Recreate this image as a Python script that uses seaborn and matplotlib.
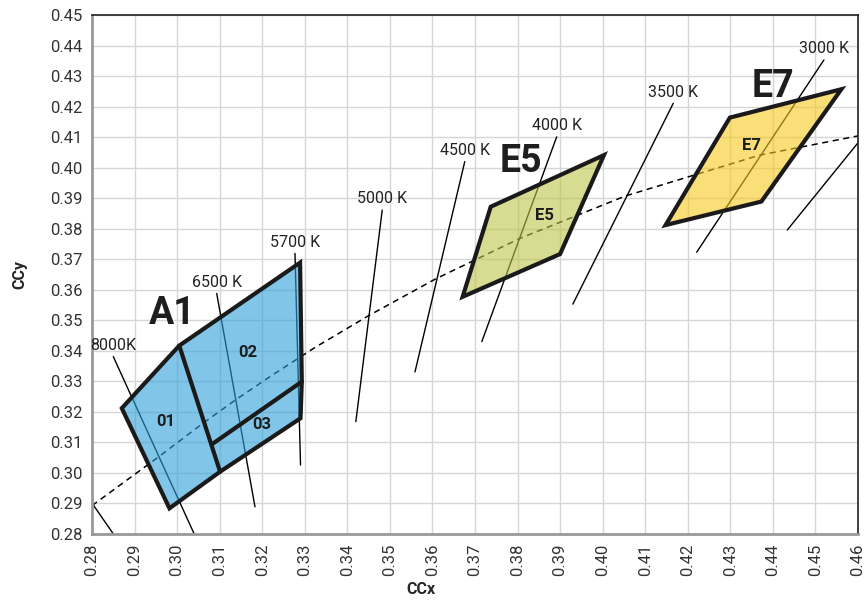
import matplotlib
matplotlib.use("Agg")
import matplotlib.pyplot as plt
import seaborn as sns
import pandas as pd

# Planckian locus (dashed)
locus_x = [0.2800, 0.2952, 0.3064, 0.3135, 0.3221, 0.3324, 0.3451, 0.3608, 0.3805, 0.4053, 0.4369, 0.4600]
locus_y = [0.2893, 0.3048, 0.3166, 0.3237, 0.3318, 0.3411, 0.3516, 0.3636, 0.3768, 0.3907, 0.4041, 0.4104]

# isotherm segments: label, (x0, y0), (x1, y1)
iso_labels = ["8000K", "", "6500 K", "5700 K", "5000 K", "4500 K", "4000 K", "3500 K", "3000 K", ""]
iso_x0 = [0.2850, 0.2803, 0.3093, 0.3277, 0.3482, 0.3676, 0.3892, 0.4166, 0.4520, 0.4640]
iso_y0 = [0.3381, 0.2895, 0.3588, 0.3719, 0.3861, 0.4020, 0.4101, 0.4211, 0.4353, 0.4150]
iso_x1 = [0.3050, 0.2870, 0.3183, 0.3290, 0.3420, 0.3559, 0.3716, 0.3930, 0.4221, 0.4434]
iso_y1 = [0.2770, 0.2760, 0.2889, 0.3026, 0.3168, 0.3331, 0.3430, 0.3553, 0.3723, 0.3796]

# bins
a1_x = [0.2870, 0.3005, 0.3289, 0.3293, 0.3290, 0.3101, 0.2982]
a1_y = [0.3212, 0.3417, 0.3689, 0.3299, 0.3179, 0.3004, 0.2884]
a1_split1_x = [0.3005, 0.3101]
a1_split1_y = [0.3417, 0.3004]
a1_split2_x = [0.3085, 0.3293]
a1_split2_y = [0.3097, 0.3299]
e5_x = [0.3737, 0.4003, 0.3900, 0.3671]
e5_y = [0.3872, 0.4041, 0.3717, 0.3577]
e7_x = [0.4299, 0.4561, 0.4373, 0.4148]
e7_y = [0.4164, 0.4257, 0.3889, 0.3812]

sns.set_style("whitegrid", {"grid.color": "#d6d6d6"})
plt.rcParams["font.family"] = ["Roboto", "DejaVu Sans"]

fig, ax = plt.subplots(figsize=(8.64, 6.02), dpi=100)
fig.subplots_adjust(left=0.1065, right=0.993, top=0.975, bottom=0.113)

# isotherms
for lab, x0, y0, x1, y1 in zip(iso_labels, iso_x0, iso_y0, iso_x1, iso_y1):
    seg = pd.DataFrame({"x": [x0, x1], "y": [y0, y1]})
    sns.lineplot(data=seg, x="x", y="y", ax=ax, color="black", lw=1.0, sort=False, zorder=2)
    if lab:
        ax.text(x0, y0 + 0.0012, lab, ha="center", va="bottom", fontsize=11.5, color="#222222")

# Planckian locus
locus = pd.DataFrame({"x": locus_x, "y": locus_y})
sns.lineplot(data=locus, x="x", y="y", ax=ax, color="black", lw=1.1, sort=False,
             linestyle=(0, (4, 3)), zorder=2)

# bin polygons
ax.fill(a1_x, a1_y, facecolor="#2E9FD9", alpha=0.6, zorder=3)
ax.fill(a1_x, a1_y, facecolor="none", edgecolor="#1a1a1a", lw=3, zorder=4, joinstyle="miter")
ax.plot(a1_split1_x, a1_split1_y, color="#1a1a1a", lw=3, zorder=4)
ax.plot(a1_split2_x, a1_split2_y, color="#1a1a1a", lw=3, zorder=4)
ax.fill(e5_x, e5_y, facecolor="#BEC54B", alpha=0.6, zorder=3)
ax.fill(e5_x, e5_y, facecolor="none", edgecolor="#1a1a1a", lw=3, zorder=4, joinstyle="miter")
ax.fill(e7_x, e7_y, facecolor="#F7C81E", alpha=0.6, zorder=3)
ax.fill(e7_x, e7_y, facecolor="none", edgecolor="#1a1a1a", lw=3, zorder=4, joinstyle="miter")

# bin labels
big = dict(fontsize=27, fontweight="bold", ha="center", va="center", color="#1e1e1e", zorder=5)
small = dict(fontsize=12, fontweight="bold", ha="center", va="center", color="#1e1e1e", zorder=5)
ax.text(0.2988, 0.3521, "A1", **big)
ax.text(0.3808, 0.4019, "E5", **big)
ax.text(0.4400, 0.4267, "E7", **big)
ax.text(0.2974, 0.3167, "01", **small)
ax.text(0.3167, 0.3393, "02", **small)
ax.text(0.3199, 0.3157, "03", **small)
ax.text(0.3864, 0.3842, "E5", **small)
ax.text(0.4351, 0.4074, "E7", **small)

ax.set_xlim(0.28, 0.46)
ax.set_ylim(0.28, 0.45)
xt = [round(0.28 + 0.01 * i, 2) for i in range(19)]
yt = [round(0.28 + 0.01 * i, 2) for i in range(18)]
ax.set_xticks(xt)
ax.set_yticks(yt)
ax.set_xticklabels([f"{v:.2f}" for v in xt], rotation=90, fontsize=12, color="#333333")
ax.set_yticklabels([f"{v:.2f}" for v in yt], fontsize=12, color="#333333")
ax.tick_params(axis="both", length=4, width=1, color="#999999", pad=3)
ax.set_xlabel("CCx", fontsize=11.5, fontweight="bold")
ax.set_ylabel("CCy", fontsize=11.5, fontweight="bold")
ax.xaxis.set_label_coords(0.43, -0.093)
ax.yaxis.set_label_coords(-0.084, 0.5)

for s in ["left", "bottom"]:
    ax.spines[s].set_color("#999999")
    ax.spines[s].set_linewidth(2)
for s in ["top", "right"]:
    ax.spines[s].set_color("#222222")
    ax.spines[s].set_linewidth(1.2)
ax.grid(True, color="#d6d6d6", lw=1)

plt.savefig("out.png", dpi=100)
